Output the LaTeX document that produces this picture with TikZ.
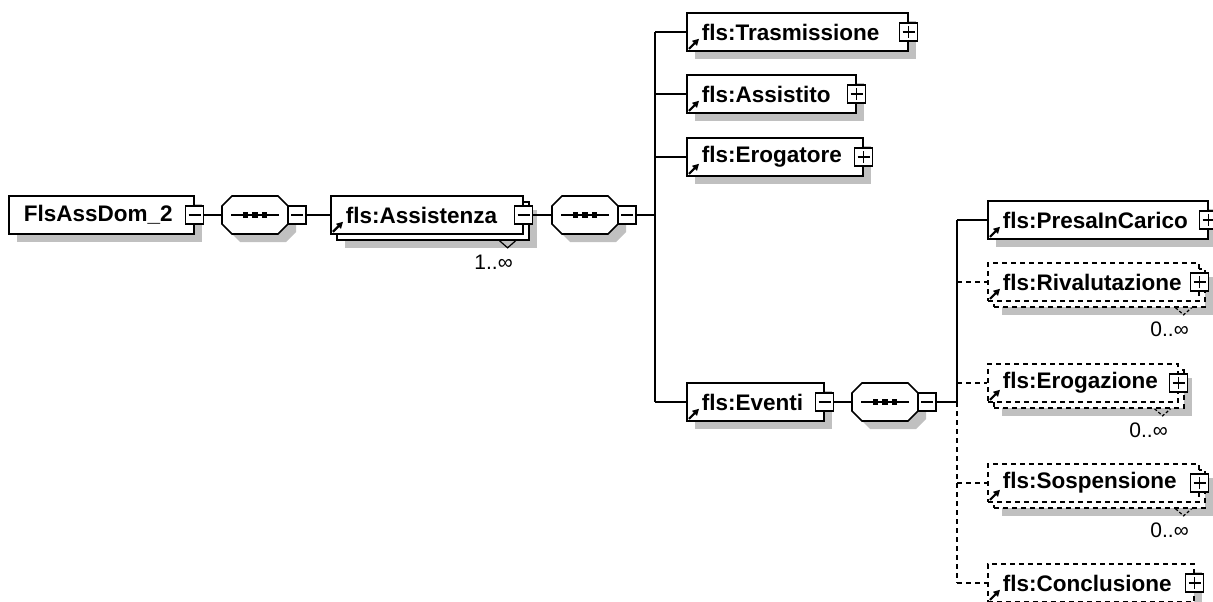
\documentclass[tikz,border=0pt]{standalone}
\usepackage{fontspec}
\setmainfont{Liberation Sans}
\usetikzlibrary{shadows,arrows.meta}
\definecolor{shcol}{RGB}{192,192,192}
\newcommand\efont{\bfseries\fontsize{22.5}{24}\selectfont}
\newcommand\lfont{\fontsize{21}{24}\selectfont}
\def\octpath{(-23,-19) -- (23,-19) -- (33,-9) -- (33,9) -- (23,19) -- (-23,19) -- (-33,9) -- (-33,-9) -- cycle}
\newcommand\seqgroup[3]{%
  \fill[shcol, shift={(#2+8,#3+8)}] \octpath;
  \draw[seqline, shift={(#2,#3)}] \octpath;
  \draw[conn] ({#2-24},#3) -- ({#2+24},#3);
  \foreach \d in {-9.5,0,9.5} \fill ({#2+\d-2.6},{#3-2.6}) rectangle ++(5.2,5.2);
  \node[seqnode] (#1) at (#2,#3) {};
}
\tikzset{
  conn/.style={line width=1.5pt},
  opt/.style={dash pattern=on 5pt off 4pt},
  elem/.style={draw, fill=white, line width=1.6pt, minimum height=38pt, inner ysep=0pt, inner xsep=15pt, anchor=west, align=left, font=\efont},
  single/.style={drop shadow={shadow xshift=8pt, shadow yshift=-8pt, fill=shcol, opacity=1}},
  multi/.style={drop shadow={shadow xshift=14pt, shadow yshift=-14pt, fill=shcol, opacity=1},
                copy shadow={shadow xshift=6pt, shadow yshift=-6pt, draw=black, fill=white, opacity=1, line width=1.6pt, #1}},
  multi/.default={},
  seqline/.style={draw, fill=white, line width=1.6pt},
  seqnode/.style={rectangle, draw=none, minimum width=66pt, minimum height=38pt, inner sep=0pt, outer sep=0pt},
  pm/.style={draw, solid, fill=white, line width=1.6pt, minimum size=18pt, inner sep=0pt, outer sep=0pt},
  minus/.style={pm, path picture={\draw[line width=1.6pt] ([xshift=-6pt]path picture bounding box.center) -- ([xshift=6pt]path picture bounding box.center);}},
  plus/.style={pm, path picture={\draw[line width=1.6pt] ([xshift=-6pt]path picture bounding box.center) -- ([xshift=6pt]path picture bounding box.center) ([yshift=-6pt]path picture bounding box.center) -- ([yshift=6pt]path picture bounding box.center);}},
  refline/.style={solid, line width=2.2pt},
  refhead/.style={solid, fill=black},
  notch/.style={line width=1.2pt},
  mult/.style={font=\lfont, inner sep=0pt},
}
\begin{document}
\begin{tikzpicture}[x=1pt, y=-1pt]
\useasboundingbox (0,0) rectangle (1213,602);

% element boxes
\node[elem, single, text width=155pt] (root) at (8,215) {FlsAssDom\_2};
\node[elem, multi, text width=162pt] (assist) at (330,215) {fls:Assistenza};
\node[elem, single, text width=191pt] (tras) at (686,32) {fls:Trasmissione};
\node[elem, single, text width=139pt] (assistito) at (686,94) {fls:Assistito};
\node[elem, single, text width=146pt] (erog) at (686,157) {fls:Erogatore};
\node[elem, single, text width=107pt] (eventi) at (686,402) {fls:Eventi};
\node[elem, single, text width=190pt] (presa) at (987,220) {fls:PresaInCarico};
\node[elem, opt, multi={opt}, text width=181pt] (rival) at (987,282) {fls:Rivalutazione};
\node[elem, opt, multi={opt}, text width=160pt] (erogz) at (987,383) {fls:Erogazione};
\node[elem, opt, multi={opt}, text width=181pt] (sosp) at (987,483) {fls:Sospensione};
\node[elem, opt, single, text width=176pt] (concl) at (987,583) {fls:Conclusione};

% sequence compositors
\seqgroup{s1}{255}{215}
\seqgroup{s2}{585}{215}
\seqgroup{s3}{885}{402}

% expand / collapse boxes
\node[minus] (rootm) at (root.east) {};
\node[minus] (assistm) at (assist.east) {};
\node[minus] (eventim) at (eventi.east) {};
\node[minus, anchor=west] (s1m) at (s1.east) {};
\node[minus, anchor=west] (s2m) at (s2.east) {};
\node[minus, anchor=west] (s3m) at (s3.east) {};
\foreach \n in {tras,assistito,erog,presa,rival,erogz,sosp,concl}
  \node[plus] (\n p) at (\n.east) {};

% reference arrows
\foreach \n in {assist,tras,assistito,erog,eventi,presa,rival,erogz,sosp,concl}{
  \draw[refline] ([shift={(3pt,3pt)}]\n.south west) -- ([shift={(9pt,9pt)}]\n.south west);
  \fill[refhead] ([shift={(13pt,13pt)}]\n.south west) -- ([shift={(6pt,11pt)}]\n.south west) -- ([shift={(11pt,6pt)}]\n.south west) -- cycle;
}

% multiplicity notches and labels
\draw[notch] ([shift={(-24pt,-6pt)}]assist.south east) -- ([shift={(-16pt,-13pt)}]assist.south east) -- ([shift={(-8pt,-6pt)}]assist.south east);
\foreach \n in {rival,erogz,sosp}
  \draw[notch, dash pattern=on 3pt off 2pt] ([shift={(-24pt,-6pt)}]\n.south east) -- ([shift={(-16pt,-13pt)}]\n.south east) -- ([shift={(-8pt,-6pt)}]\n.south east);
\node[mult] (l1) at ([shift={(-30pt,-27pt)}]assist.south east) {1..∞};
\node[mult] (l2) at ([shift={(-30pt,-27pt)}]rival.south east) {0..∞};
\node[mult] (l3) at ([shift={(-30pt,-27pt)}]erogz.south east) {0..∞};
\node[mult] (l4) at ([shift={(-30pt,-27pt)}]sosp.south east) {0..∞};

% connectors
\coordinate (j1) at (655,215);
\coordinate (j2) at (957,402);
\draw[conn] (rootm) -- (s1);
\draw[conn] (s1m) -- (assist);
\draw[conn] (assistm) -- (s2);
\draw[conn] (s2m) -- (j1);
\draw[conn] (j1 |- tras.west) -- (j1 |- eventi.west);
\foreach \n in {tras,assistito,erog,eventi}
  \draw[conn] (j1 |- \n.west) -- (\n.west);
\draw[conn] (eventim) -- (s3);
\draw[conn] (s3m) -- (j2);
\draw[conn] (j2 |- presa.west) -- (j2);
\draw[conn, opt] (j2) -- (j2 |- concl.west);
\draw[conn] (j2 |- presa.west) -- (presa.west);
\foreach \n in {rival,erogz,sosp,concl}
  \draw[conn, opt] (j2 |- \n.west) -- (\n.west);
\end{tikzpicture}
\end{document}
